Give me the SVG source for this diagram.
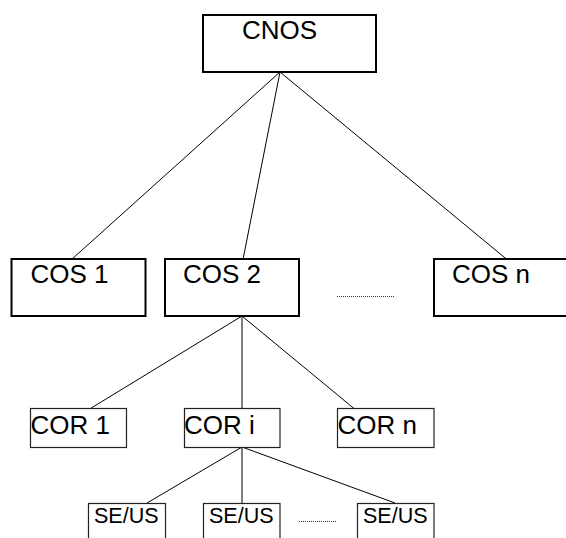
<svg xmlns="http://www.w3.org/2000/svg" width="566" height="538" viewBox="0 0 566 538">
<style>
.bg{fill:#fff}
.big{fill:#fff;stroke:#000;stroke-width:2}
.small{fill:#fff;stroke:#222;stroke-width:1.2}
.t{font-family:"Liberation Sans",Arial,sans-serif;fill:#000}
.t25{font-size:26px}
.t21{font-size:21.5px}
.ln{stroke:#000;stroke-width:1;fill:none}
.dot{stroke:#333;stroke-width:1;stroke-dasharray:1 1;fill:none}
</style>
<rect class="bg" x="0" y="0" width="566" height="538"/>
<g id="connectors">
<line class="ln" x1="280" y1="72" x2="71" y2="260"/>
<line class="ln" x1="280" y1="72" x2="242.5" y2="262"/>
<line class="ln" x1="280" y1="72" x2="510" y2="262"/>
<line class="ln" x1="242" y1="316" x2="88" y2="410"/>
<line class="ln" x1="242" y1="316" x2="242" y2="409"/>
<line class="ln" x1="242" y1="316" x2="357" y2="411"/>
<line class="ln" x1="242" y1="447" x2="147" y2="503"/>
<line class="ln" x1="242" y1="447" x2="242" y2="504"/>
<line class="ln" x1="242" y1="447" x2="395" y2="503"/>
</g>
<g id="cnos">
<rect class="big" x="203" y="15" width="173" height="57"/>
<text class="t t25" x="242" y="38.5">CNOS</text>
</g>
<g id="cos1">
<rect class="big" x="11.5" y="259" width="134" height="57"/>
<text class="t t25" x="30.5" y="282.5">COS 1</text>
</g>
<g id="cos2">
<rect class="big" x="165" y="259" width="134" height="57"/>
<text class="t t25" x="183" y="282.5">COS 2</text>
</g>
<g id="cosn">
<rect class="big" x="434" y="259" width="140" height="57"/>
<text class="t t25" x="452" y="282.5">COS n</text>
</g>
<g id="dots-cos">
<line class="dot" x1="337" y1="296.5" x2="395" y2="296.5"/>
</g>
<g id="cor1">
<rect class="small" x="30.5" y="408.5" width="96" height="39"/>
<text class="t t25" x="30.5" y="434">COR 1</text>
</g>
<g id="cori">
<rect class="small" x="184.5" y="408.5" width="95.5" height="39"/>
<text class="t t25" x="184" y="434">COR i</text>
</g>
<g id="corn">
<rect class="small" x="337.5" y="408.5" width="96.5" height="39"/>
<text class="t t25" x="337.5" y="434">COR n</text>
</g>
<g id="seus1">
<rect class="small" x="88.5" y="503.5" width="77" height="40"/>
<text class="t t21" x="94" y="522.7">SE/US</text>
</g>
<g id="seus2">
<rect class="small" x="203.5" y="503.5" width="76.5" height="40"/>
<text class="t t21" x="209" y="522.7">SE/US</text>
</g>
<g id="dots-seus">
<line class="dot" x1="299" y1="521.5" x2="337" y2="521.5"/>
</g>
<g id="seus3">
<rect class="small" x="357.5" y="503.5" width="76.5" height="40"/>
<text class="t t21" x="363" y="522.7">SE/US</text>
</g>
</svg>
